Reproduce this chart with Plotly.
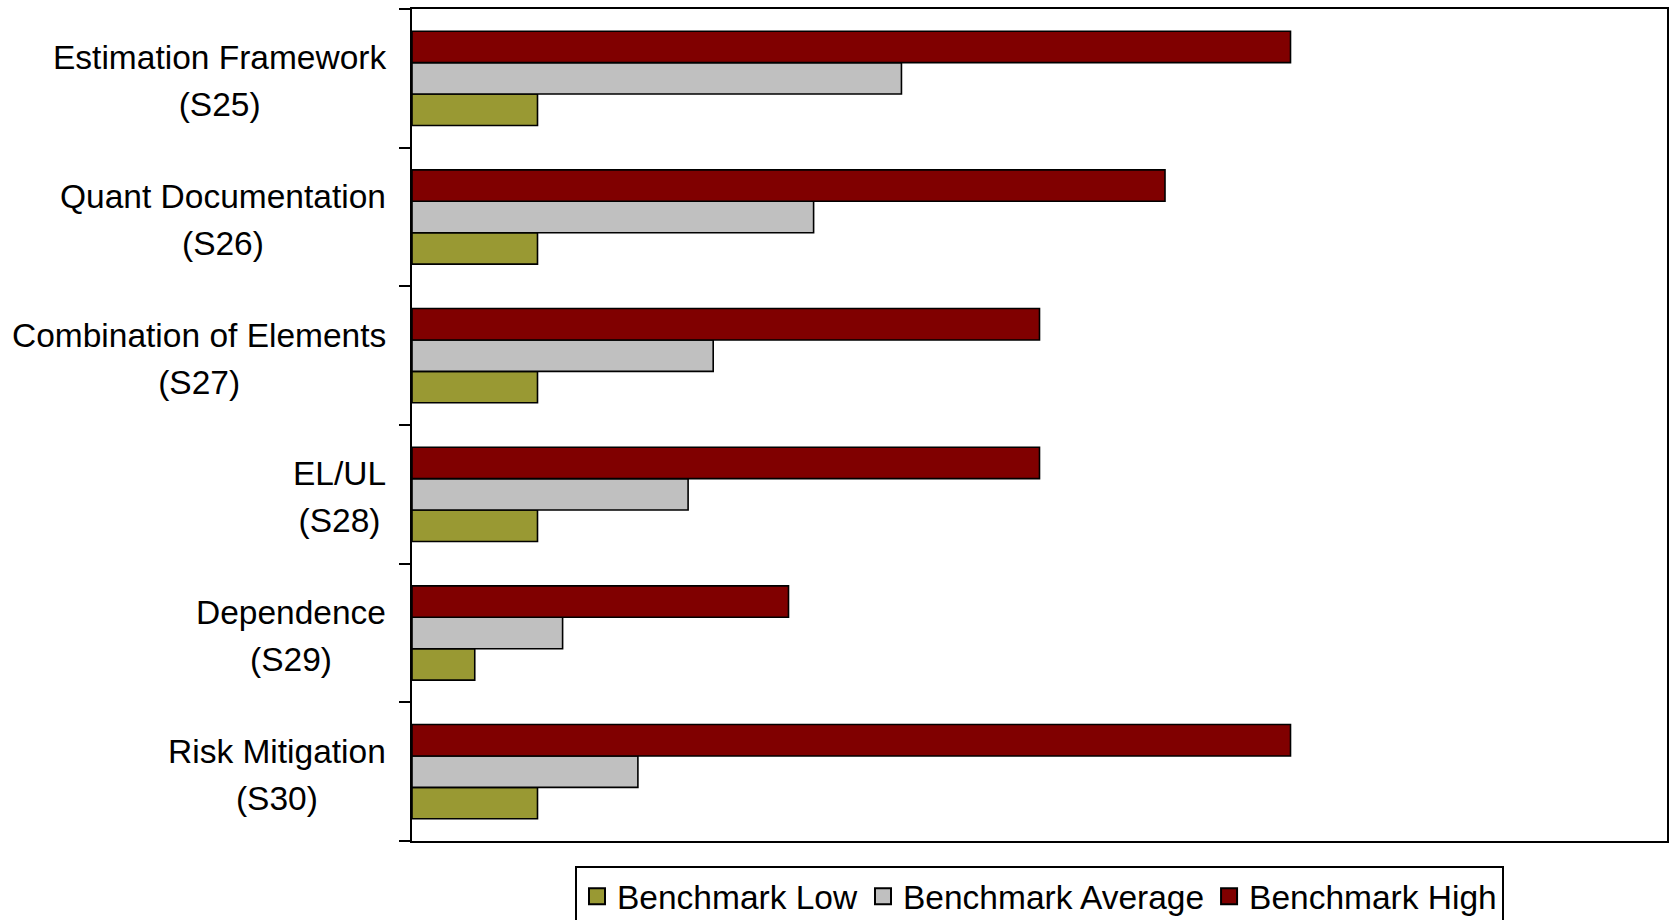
import plotly.graph_objects as go

# Category names and section codes, listed top to bottom
category_names = [
    "Estimation Framework",
    "Quant Documentation",
    "Combination of Elements",
    "EL/UL",
    "Dependence",
    "Risk Mitigation",
]
category_codes = ["(S25)", "(S26)", "(S27)", "(S28)", "(S29)", "(S30)"]
categories = [f"{n}<br>{c}" for n, c in zip(category_names, category_codes)]

benchmark_low = [1.0, 1.0, 1.0, 1.0, 0.5, 1.0]
benchmark_average = [3.9, 3.2, 2.4, 2.2, 1.2, 1.8]
benchmark_high = [7.0, 6.0, 5.0, 5.0, 3.0, 7.0]

series_names = ["Benchmark Low", "Benchmark Average", "Benchmark High"]
series_colors = ["#999933", "#C0C0C0", "#800000"]

FONT = "Liberation Sans, Arial, sans-serif"
TEXT_SIZE = 33.5

fig = go.Figure()
for name, vals, color in zip(series_names,
                             [benchmark_low, benchmark_average, benchmark_high],
                             series_colors):
    fig.add_trace(go.Bar(
        name=name,
        y=categories,
        x=vals,
        orientation="h",
        marker=dict(color=color, line=dict(color="black", width=1.6)),
        showlegend=False,
    ))

# Legend entries with larger outlined square swatches
for name, color in zip(series_names, series_colors):
    fig.add_trace(go.Scatter(
        name=name, x=[None], y=[None], mode="markers",
        marker=dict(symbol="square", size=18, color=color,
                    line=dict(color="black", width=2)),
        showlegend=True, hoverinfo="skip",
    ))

# Category labels, centred line by line, placed left of the axis.
# The larger base font widens the line spacing; the spans set the glyph size.
for cat, name, code in zip(categories, category_names, category_codes):
    span = f"<span style='font-size:{TEXT_SIZE}px'>"
    fig.add_annotation(
        x=0, xref="paper", xanchor="right", xshift=-24,
        y=cat, yref="y", yanchor="middle", yshift=-3,
        text=f"{span}{name}</span><br>{span}{code}</span>",
        showarrow=False, align="center",
        font=dict(family=FONT, size=36, color="black"),
    )

fig.update_layout(
    width=1671, height=920,
    margin=dict(l=412, r=2, t=9, b=79),
    paper_bgcolor="white", plot_bgcolor="white",
    barmode="group", bargap=0.32, bargroupgap=0,
    font=dict(family=FONT, size=TEXT_SIZE, color="black"),
    showlegend=True,
    legend=dict(
        orientation="h",
        x=0.5, xanchor="center", xref="paper",
        y=(920 - 866) / 920, yanchor="top", yref="container",
        bordercolor="black", borderwidth=2,
        font=dict(family=FONT, size=TEXT_SIZE, color="black"),
        traceorder="normal",
        itemwidth=30,
    ),
    xaxis=dict(
        range=[0, 10],
        showticklabels=False, ticks="",
        showgrid=False, zeroline=False,
        showline=True, linecolor="black", linewidth=2, mirror=True,
    ),
    yaxis=dict(
        categoryorder="array", categoryarray=categories[::-1],
        showticklabels=False,
        ticks="outside", tickson="boundaries", ticklen=11,
        tickwidth=2, tickcolor="black",
        showgrid=False, zeroline=False,
        showline=True, linecolor="black", linewidth=2, mirror=True,
    ),
)

fig.write_html("out.html")
